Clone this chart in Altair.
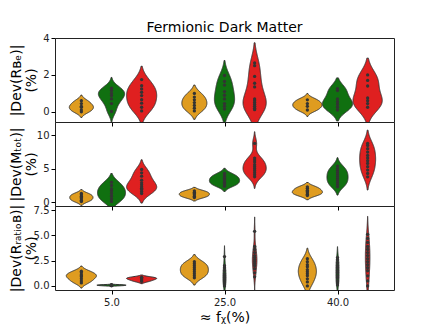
import json
import altair as alt
import pandas as pd

group_labels = ["5.0", "25.0", "40.0"]
hue_names = ["orange", "green", "red"]
hue_colors = ["#DF9C20", "#107010", "#DF2020"]

# Panel 1: |Dev(R_Be)| (%) -- per group: [orange, green, red]
rbe_5 = [[0.0, 0.1, 0.25, 0.3, 0.45, 0.6],
         [0.02, 0.45, 0.7, 0.88, 1.0, 1.15, 1.28],
         [0.05, 0.25, 0.47, 0.66, 0.88, 1.06, 1.24, 1.42, 1.75]]
rbe_25 = [[0.05, 0.2, 0.35, 0.5, 0.65, 0.8, 1.0],
          [0.15, 0.3, 0.45, 0.7, 0.9, 1.1, 1.45, 1.65, 1.97],
          [0.12, 0.2, 0.3, 0.4, 0.5, 0.6, 0.7, 1.35, 1.55, 1.92, 2.5, 2.65]]
rbe_40 = [[0.1, 0.3, 0.45, 0.65],
          [0.1, 0.25, 0.4, 0.55, 0.7, 1.15, 1.25],
          [0.25, 0.45, 0.6, 0.75, 1.4, 1.7, 2.0]]

# Panel 2: |Dev(M_tot)| (%)
mtot_5 = [[0.1, 0.3, 0.5, 0.7, 0.9, 1.1, 1.3],
          [0.1, 0.5, 0.9, 1.3, 1.7, 2.0, 2.5, 3.0],
          [1.3, 1.6, 1.9, 2.1, 2.3, 2.6, 2.9, 3.3, 3.9, 4.4, 4.9]]
mtot_25 = [[0.7, 0.9, 1.1, 1.3, 1.5, 1.7],
           [2.4, 2.6, 2.8, 3.0, 3.2, 3.4, 3.6, 3.8, 4.0, 4.3],
           [3.8, 4.1, 4.4, 4.7, 5.0, 5.3, 5.6, 6.0, 6.3, 6.6, 8.8]]
mtot_40 = [[1.0, 1.2, 1.4, 1.6, 1.8, 2.1, 2.3],
           [2.3, 2.6, 2.9, 3.2, 3.5, 3.8, 4.1, 4.4, 4.7, 5.0, 5.4],
           [3.8, 4.3, 4.8, 5.3, 5.8, 6.2, 6.6, 7.0, 7.5, 8.0, 8.5, 8.8]]

# Panel 3: |Dev(R_ratioB)| (%)
ratio_5 = [[0.3, 0.5, 0.7, 0.9, 1.0, 1.1, 1.3, 1.45],
           [0.02, 0.05, 0.07, 0.1, 0.12],
           [0.45, 0.6, 0.7, 0.8, 0.85]]
ratio_25 = [[0.8, 1.0, 1.2, 1.4, 1.6, 1.8, 2.0, 2.2, 2.4],
            [0.0, 0.2, 0.4, 0.6, 0.8, 1.0, 1.2, 1.5, 1.8, 2.0, 2.9],
            [0.9, 1.3, 1.7, 2.0, 2.2, 2.4, 2.6, 2.8, 3.0, 3.3, 3.6, 3.9, 5.4]]
ratio_40 = [[0.0, 0.4, 0.7, 1.0, 1.2, 1.4, 1.6, 1.9, 2.1, 2.4, 2.7],
            [0.1, 0.3, 0.5, 0.8, 1.0, 1.3, 1.5, 1.8, 2.0, 2.3, 2.6, 2.8],
            [0.0, 0.5, 1.0, 1.5, 1.8, 2.1, 2.4, 2.7, 3.0, 3.3, 3.6, 3.9, 4.3, 4.7, 5.1]]

# relative violin widths (group-major: orange, green, red)
width_rbe = [[0.8, 0.87, 1.0], [0.83, 0.67, 0.77], [0.97, 1.0, 0.97]]
width_mtot = [[0.77, 0.93, 1.0], [1.0, 1.0, 0.77], [1.0, 0.7, 0.53]]
width_ratio = [[1.0, 0.97, 1.0], [0.93, 0.1, 0.15], [0.6, 0.1, 0.15]]

panels = [
    ("rbe", [rbe_5, rbe_25, rbe_40], width_rbe),
    ("mtot", [mtot_5, mtot_25, mtot_40], width_mtot),
    ("ratio", [ratio_5, ratio_25, ratio_40], width_ratio),
]

rows = []
for pname, groups, widths in panels:
    for gi, grp in enumerate(groups):
        for hi, vals in enumerate(grp):
            for v in vals:
                rows.append({"panel": pname, "g": gi, "h": hi, "v": v,
                             "wf": widths[gi][hi]})
df = pd.DataFrame(rows)

FONT = "DejaVu Sans"
EDGE = "#333333"
HUE_STEP = 0.8 / 3


def panel_chart(pname, ydom, yticks, ytitle, yfmt, bottom):
    yscale = alt.Scale(domain=ydom, nice=False, zero=False)
    xscale = alt.Scale(domain=[-0.5, 2.5], nice=False, zero=False)
    yaxis = alt.Axis(values=yticks, format=yfmt, title=ytitle, grid=False,
                     domain=False, tickSize=4, tickColor="#000",
                     labelFontSize=10, labelColor="#222", labelPadding=2,
                     labelOverlap=False, labelFlush=False,
                     titleFontSize=14, titleFontWeight="normal",
                     titleColor="#000", titleLineHeight=15,
                     titleX=-32, titleBaseline="bottom", titleAlign="center",
                     titleFont=FONT, labelFont=FONT)
    if bottom:
        xaxis = alt.Axis(values=[0, 1, 2], grid=False, domain=False,
                         labelExpr=json.dumps(group_labels) + "[round(datum.value)]",
                         title="≈ fᵪ(%)", tickSize=4, tickColor="#000",
                         labelFontSize=10, labelColor="#222", labelPadding=3,
                         labelOverlap=False,
                         titleFontSize=14, titleFontWeight="normal",
                         titleColor="#000", titlePadding=3,
                         titleFont=FONT, labelFont=FONT, labelAngle=0)
    else:
        xaxis = alt.Axis(values=[0, 1, 2], grid=False, domain=False,
                         labels=False, title=None, tickSize=4, tickColor="#000")

    base = alt.Chart(df).transform_filter(alt.datum.panel == pname)

    viol = (
        base.transform_joinaggregate(
            vmin="min(v)", vmax="max(v)", sd="stdev(v)", n="count()",
            groupby=["g", "h"])
        .transform_calculate(
            lo="datum.vmin - 2 * datum.sd * pow(datum.n, -0.2)",
            hi="datum.vmax + 2 * datum.sd * pow(datum.n, -0.2)")
        .transform_density(
            "v", groupby=["g", "h", "lo", "hi", "wf"],
            extent=[ydom[0] - 1.5, ydom[1] + 1.5], steps=600,
            as_=["v", "dens"])
        .transform_filter("datum.v >= datum.lo && datum.v <= datum.hi")
        .transform_joinaggregate(dmax="max(dens)", groupby=["g", "h"])
        .transform_calculate(
            c=f"datum.g + (datum.h - 1) * {HUE_STEP}",
            half=f"datum.dens / datum.dmax * {HUE_STEP / 2} * datum.wf")
        .transform_calculate(
            left="datum.c - datum.half", right="datum.c + datum.half")
        .mark_area(orient="horizontal", stroke=EDGE, strokeWidth=1,
                   clip=True, fillOpacity=1)
        .encode(
            y=alt.Y("v:Q", scale=yscale, axis=yaxis),
            x=alt.X("left:Q", scale=xscale, axis=xaxis),
            x2="right:Q",
            color=alt.Color("h:N", scale=alt.Scale(domain=[0, 1, 2],
                                                   range=hue_colors),
                            legend=None),
            detail="g:N",
        )
    )

    pts = (
        base.transform_calculate(c=f"datum.g + (datum.h - 1) * {HUE_STEP}")
        .mark_circle(size=11, color=EDGE, opacity=1, clip=True)
        .encode(x=alt.X("c:Q", scale=xscale, axis=xaxis),
                y=alt.Y("v:Q", scale=yscale, axis=yaxis))
    )
    return alt.layer(viol, pts).properties(width=339, height=84)


p1 = panel_chart("rbe", [-0.55, 4.0], [0, 2, 4], ["|Dev(Rʙₑ)|", "(%)"], "d", False)
p2 = panel_chart("mtot", [-0.57, 12.0], [0, 5, 10], ["|Dev(Mₜₒₜ)|", "(%)"], "d", False)
p3 = panel_chart("ratio", [-0.4, 7.9], [0, 2.5, 5, 7.5], ["|Dev(Rᵣₐₜᵢₒʙ)|", "(%)"], ".1f", True)

chart = (
    alt.vconcat(p1, p2, p3, spacing=0, bounds="flush")
    .properties(
        title=alt.TitleParams("Fermionic Dark Matter", fontSize=14,
                              fontWeight="normal", font=FONT, color="#000",
                              anchor="middle", frame="group", offset=-2),
        padding={"left": 0, "top": 12, "right": 5, "bottom": 0},
    )
    .configure_view(stroke="#222", strokeWidth=1)
)

chart.save("out.html", embed_options={"renderer": "svg", "actions": False})
